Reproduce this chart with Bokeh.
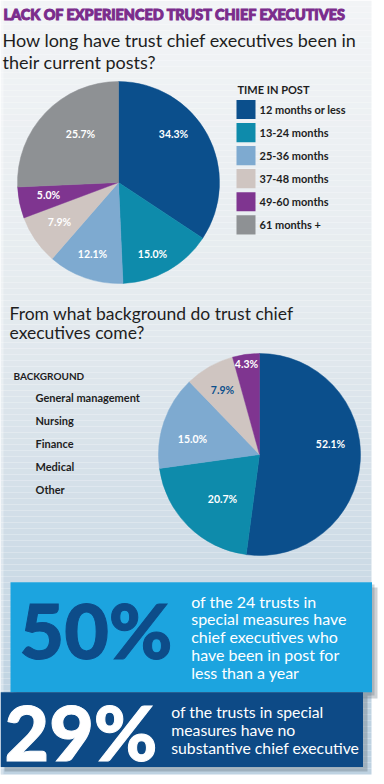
import math
from bokeh.plotting import figure
from bokeh.models import Range1d, ColumnDataSource
from bokeh.core.properties import value
from bokeh.embed import file_html
from bokeh.resources import INLINE

# ---------------- data ----------------
title_text = "LACK OF EXPERIENCED TRUST CHIEF EXECUTIVES"
q1_lines = ["How long have trust chief executives been in", "their current posts?"]
legend1_title = "TIME IN POST"
tenure_labels = ["12 months or less", "13-24 months", "25-36 months",
                 "37-48 months", "49-60 months", "61 months +"]
tenure_pct = [34.3, 15.0, 12.1, 7.9, 5.0, 25.7]

q2_lines = ["From what background do trust chief", "executives come?"]
legend2_title = "BACKGROUND"
background_labels = ["General management", "Nursing", "Finance", "Medical", "Other"]
background_pct = [52.1, 20.7, 15.0, 7.9, 4.3]

stat1_value = "50%"
stat1_lines = ["of the 24 trusts in", "special measures have", "chief executives who",
               "have been in post for", "less than a year"]
stat2_value = "29%"
stat2_lines = ["of the trusts in special", "measures have no", "substantive chief executive"]

# ---------------- styles ----------------
slice_colors = ["#0b4f8c", "#0e8bab", "#7eaad0", "#cfc5c1", "#7f3590", "#8e9194"]
pie1_label_colors = ["white"] * 6
pie2_label_colors = ["white", "white", "white", "#0b4f8c", "white"]
# label offsets relative to pie centre (layout only)
pie1_label_off = [(55, -49), (34, 71), (-26, 71), (-59, 39), (-70, 12), (-38, -49)]
pie2_label_off = [(71, -11), (-37, 44), (-67, -16), (-37, -65), (-13, -91)]

W, H = 384, 784
FONT = value("Lato")
HEAVY = value("Lato Black")

p = figure(width=W, height=H, x_range=Range1d(0, W), y_range=Range1d(H, 0),
           output_backend="svg", toolbar_location=None, min_border=0,
           x_axis_type=None, y_axis_type=None)
p.grid.visible = False
p.outline_line_color = None
p.background_fill_color = "white"
p.border_fill_color = "white"

# background gradient panel
stops = [(0, (242, 244, 246)), (300, (229, 235, 239)), (450, (216, 226, 234)), (720, (190, 210, 225))]
def grad(y):
    for (y0, c0), (y1, c1) in zip(stops[:-1], stops[1:]):
        if y <= y1:
            t = (y - y0) / (y1 - y0)
            return "#%02x%02x%02x" % tuple(int(round(a + (b - a) * t)) for a, b in zip(c0, c1))
    return "#%02x%02x%02x" % stops[-1][1]
band_top = list(range(0, 774, 6))
p.quad(left=0, right=371, top=band_top, bottom=[min(b + 6, 774) for b in band_top],
       color=[grad(b + 3) for b in band_top], line_color=None)
p.quad(left=0, right=3, top=0, bottom=774, color="white", alpha=0.35, line_color=None)

# title and question 1
p.text(x=[3], y=[14.2], text=[title_text], text_font=HEAVY, text_font_style="bold",
       text_font_size="14.4px", text_color="#7b2c8c", text_outline_color="#7b2c8c",
       text_baseline="middle")
p.text(x=[2, 2], y=[39.5, 61], text=q1_lines, text_font=FONT, text_font_size="18px",
       text_color="#1e1e1e", text_baseline="middle")


def pie(cx, cy, r, pct, colors, offs, lcolors):
    total = sum(pct)
    cum = 0.0
    st, en, lx, ly, lt = [], [], [], [], []
    for v, (dx, dy) in zip(pct, offs):
        st.append(math.pi / 2 - 2 * math.pi * (cum + v) / total)
        en.append(math.pi / 2 - 2 * math.pi * cum / total)
        cum += v
        lx.append(cx + dx)
        ly.append(cy + dy)
        lt.append(f"{v:.1f}%")
    src = ColumnDataSource(dict(start=st, end=en, color=colors[:len(pct)]))
    p.wedge(x=cx, y=cy, radius=r, start_angle="start", end_angle="end",
            direction="anticlock", fill_color="color", line_color="color", line_width=0.5, source=src)
    p.text(x=lx, y=ly, text=lt, text_color=lcolors, text_font=FONT, text_font_style="bold",
           text_font_size="10.5px", text_align="center", text_baseline="middle")


# pie 1 + legend
pie(118, 182, 101, tenure_pct, slice_colors, pie1_label_off, pie1_label_colors)
p.text(x=[237], y=[88.5], text=[legend1_title], text_font=FONT, text_font_style="bold",
       text_font_size="11px", text_color="#1e1e1e", text_baseline="middle")
ly1 = [109 + 23.06 * i for i in range(len(tenure_labels))]
p.quad(left=236, right=255, top=[y - 9.6 for y in ly1], bottom=[y + 9.6 for y in ly1],
       color=slice_colors, line_color=None)
p.text(x=[259] * len(ly1), y=ly1, text=tenure_labels, text_font=FONT, text_font_style="bold",
       text_font_size="11px", text_color="#1e1e1e", text_baseline="middle")

# question 2, legend 2, pie 2
p.text(x=[9, 9], y=[312.5, 331.5], text=q2_lines, text_font=FONT, text_font_size="17.5px",
       text_color="#1e1e1e", text_baseline="middle")
p.text(x=[13], y=[375], text=[legend2_title], text_font=FONT, text_font_style="bold",
       text_font_size="10px", text_color="#1e1e1e", text_baseline="middle")
ly2 = [396.7 + 23.15 * i for i in range(len(background_labels))]
p.text(x=[35] * len(ly2), y=ly2, text=background_labels, text_font=FONT, text_font_style="bold",
       text_font_size="11px", text_color="#1e1e1e", text_baseline="middle")
pie(259, 454, 101, background_pct, slice_colors, pie2_label_off, pie2_label_colors)

# stat box 1
p.quad(left=16, right=377, top=587, bottom=698, color="#6f7c86", alpha=0.35, line_color=None)
p.quad(left=13, right=374, top=584, bottom=695, color="#6f7c86", alpha=0.35, line_color=None)
p.quad(left=10, right=371.5, top=581.7, bottom=691.7, color="#1ca4df", line_color=None)
p.text(x=[19], y=[628.5], text=[stat1_value], text_font=HEAVY, text_font_style="bold",
       text_font_size="77px", text_color="#0d4c89", text_outline_color="#0d4c89",
       text_baseline="middle")
p.text(x=[190.7] * 5, y=[600.5 + 17.8 * i for i in range(5)], text=stat1_lines,
       text_font=FONT, text_font_size="16px", text_color="white", text_baseline="middle")

# stat box 2
p.quad(left=4, right=367, top=695, bottom=771, color="#6f7c86", alpha=0.4, line_color=None)
p.quad(left=0, right=362.5, top=691.7, bottom=766.5, color="#0d4a86", line_color=None)
p.text(x=[4], y=[730.5], text=[stat2_value], text_font=HEAVY, text_font_style="bold",
       text_font_size="77px", text_color="white", text_outline_color="white",
       text_baseline="middle")
p.text(x=[170.7] * 3, y=[710.5 + 18.3 * i for i in range(3)], text=stat2_lines,
       text_font=FONT, text_font_size="15.8px", text_color="white", text_baseline="middle")

open("out.html", "w").write(file_html(p, INLINE))
